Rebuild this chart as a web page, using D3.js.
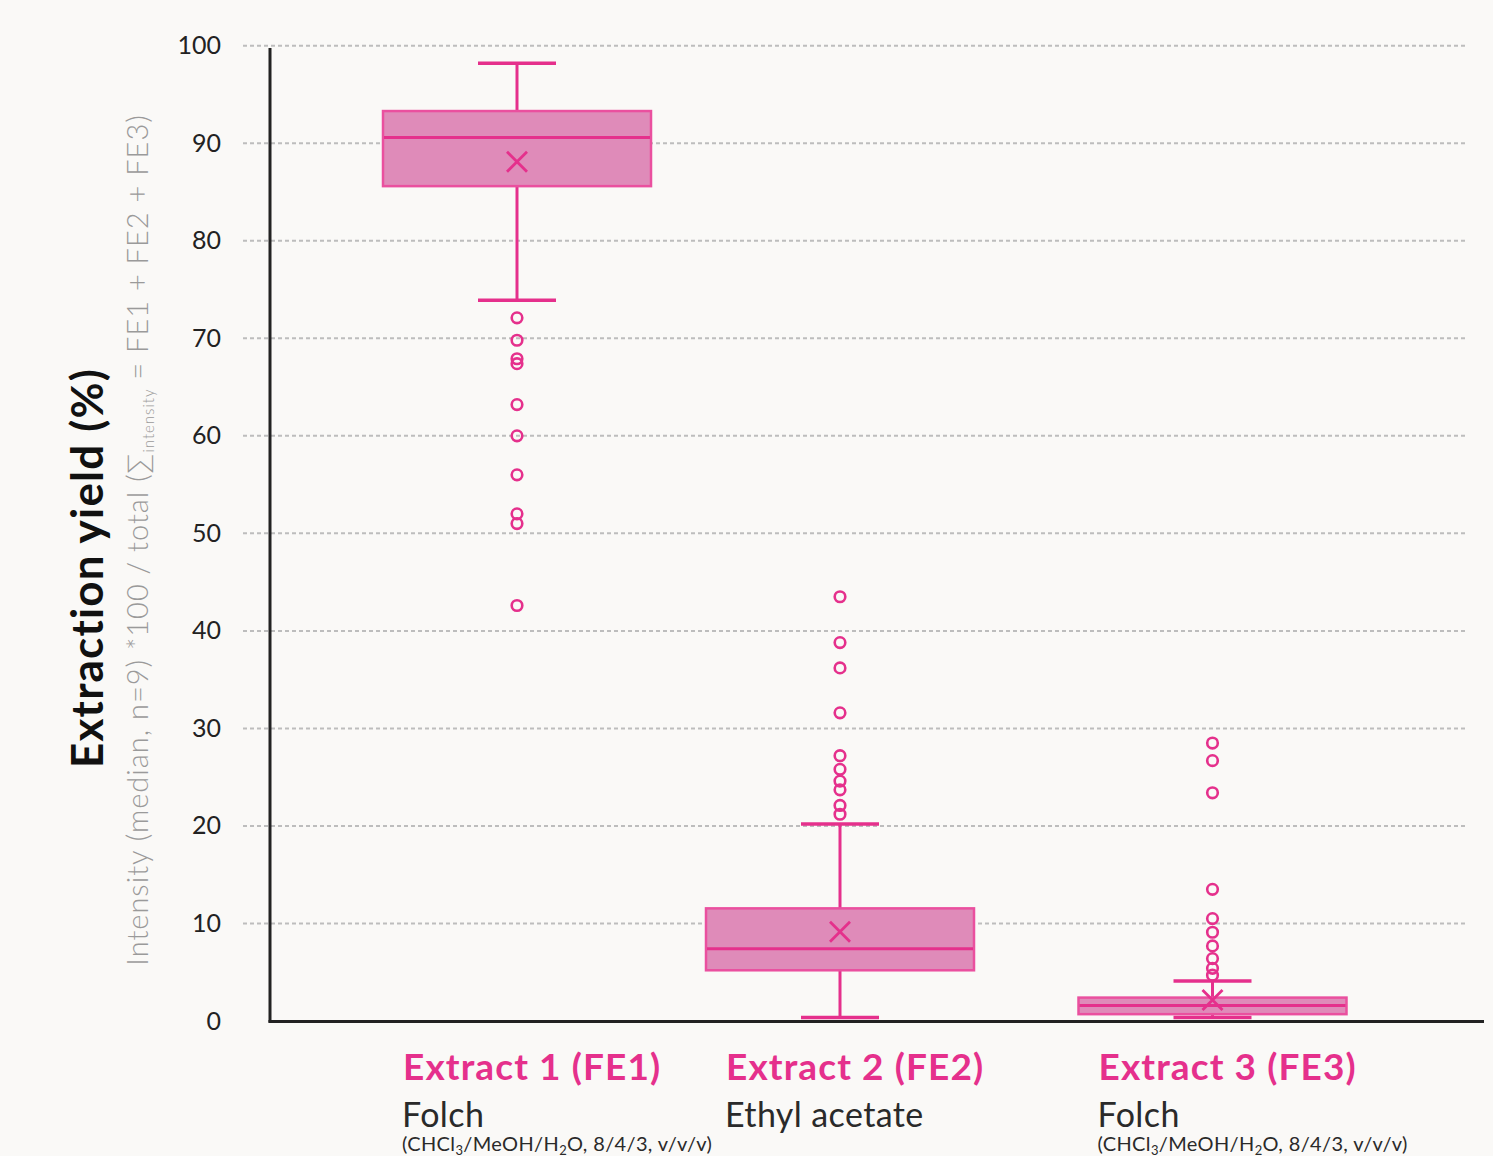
<!DOCTYPE html>
<html>
<head>
<meta charset="utf-8">
<script src="https://cdn.jsdelivr.net/npm/d3@7"></script>
<style>
  html, body { margin: 0; padding: 0; background: #FAF9F7; }
  svg { display: block; }
</style>
</head>
<body>
<svg id="chart" width="1493" height="1156"></svg>
<script>
// ---- data ----
const categories = ["Extract 1 (FE1)", "Extract 2 (FE2)", "Extract 3 (FE3)"];
const methods = ["Folch", "Ethyl acetate", "Folch"];
const hasSolventNote = [true, false, true];
const whiskerLow = [73.9, 0.35, 0.35];
const q1 = [85.6, 5.2, 0.7];
const median = [90.6, 7.4, 1.6];
const q3 = [93.3, 11.55, 2.4];
const whiskerHigh = [98.2, 20.2, 4.1];
const mean = [88.1, 9.15, 2.15];
const outliersFE1 = [72.1, 69.8, 67.9, 67.4, 63.2, 60.0, 56.0, 52.0, 51.0, 42.6];
const outliersFE2 = [43.5, 38.8, 36.2, 31.6, 27.2, 25.8, 24.6, 23.7, 22.1, 21.2];
const outliersFE3 = [28.5, 26.7, 23.4, 13.5, 10.5, 9.1, 7.7, 6.4, 5.4, 4.7];
const outliers = [outliersFE1, outliersFE2, outliersFE3];
const yTicks = [0, 10, 20, 30, 40, 50, 60, 70, 80, 90, 100];

// ---- styles ----
const PINK = "#E5308C";
const BOX_FILL = "#DF8BB9";
const BOX_STROKE = "#EA509F";
const FONT = "Lato, 'Noto Sans', sans-serif";

const svg = d3.select("#chart");
svg.append("rect").attr("width", 1493).attr("height", 1156).attr("fill", "#FAF9F7");

const axisX = 270, axisRight = 1484;
const y = d3.scaleLinear().domain([0, 100]).range([1021, 45.7]);
const x = d3.scaleLinear().domain([0, 1, 2]).range([517, 840, 1212.5]);
const boxW = 268, capW = 78;

// gridlines
svg.append("g").selectAll("line").data(yTicks.filter(t => t > 0)).join("line")
  .attr("x1", 243).attr("x2", 1466)
  .attr("y1", d => y(d)).attr("y2", d => y(d))
  .attr("stroke", "#BDBDBD").attr("stroke-width", 2).attr("stroke-dasharray", "4,3");

// y tick labels via axis
const yAxis = svg.append("g").attr("transform", `translate(${axisX},0)`)
  .call(d3.axisLeft(y).tickValues(yTicks).tickSize(0).tickPadding(49));
yAxis.select(".domain").remove();
yAxis.selectAll("text").attr("font-family", FONT).attr("font-size", 25)
  .attr("fill", "#222").attr("font-weight", 400);

// boxes
const g = svg.append("g");
categories.forEach((c, i) => {
  const cx = x(i);
  g.append("line").attr("x1", cx).attr("x2", cx).attr("y1", y(whiskerHigh[i])).attr("y2", y(q3[i]))
    .attr("stroke", PINK).attr("stroke-width", 3);
  g.append("line").attr("x1", cx).attr("x2", cx).attr("y1", y(q1[i])).attr("y2", y(whiskerLow[i]))
    .attr("stroke", PINK).attr("stroke-width", 3);
  [whiskerHigh[i], whiskerLow[i]].forEach(v => {
    g.append("line").attr("x1", cx - capW / 2).attr("x2", cx + capW / 2)
      .attr("y1", y(v)).attr("y2", y(v)).attr("stroke", PINK).attr("stroke-width", 3.5);
  });
  g.append("rect").attr("x", cx - boxW / 2).attr("width", boxW)
    .attr("y", y(q3[i])).attr("height", y(q1[i]) - y(q3[i]))
    .attr("fill", BOX_FILL).attr("stroke", BOX_STROKE).attr("stroke-width", 2.5);
  g.append("line").attr("x1", cx - boxW / 2 + 1).attr("x2", cx + boxW / 2 - 1)
    .attr("y1", y(median[i])).attr("y2", y(median[i]))
    .attr("stroke", PINK).attr("stroke-width", 3);
  const my = y(mean[i]), s = 10;
  g.append("path").attr("d", `M${cx - s},${my - s}L${cx + s},${my + s}M${cx - s},${my + s}L${cx + s},${my - s}`)
    .attr("stroke", PINK).attr("stroke-width", 2.8).attr("fill", "none");
  g.append("g").selectAll("circle").data(outliers[i]).join("circle")
    .attr("cx", cx).attr("cy", d => y(d)).attr("r", 5.3)
    .attr("fill", "none").attr("stroke", PINK).attr("stroke-width", 2.6);
});

// axes lines
svg.append("line").attr("x1", axisX).attr("x2", axisX).attr("y1", 48).attr("y2", 1022.5)
  .attr("stroke", "#222").attr("stroke-width", 3);
svg.append("line").attr("x1", axisX - 1.5).attr("x2", axisRight).attr("y1", 1021.5).attr("y2", 1021.5)
  .attr("stroke", "#222").attr("stroke-width", 3);

// category labels
categories.forEach((c, i) => {
  const lx = x(i) - 114;
  svg.append("text").attr("x", lx).attr("y", 1080)
    .attr("font-family", FONT).attr("font-weight", 700).attr("font-size", 37)
    .attr("letter-spacing", 1.1).attr("fill", PINK).text(c);
  svg.append("text").attr("x", lx - 1).attr("y", 1127)
    .attr("font-family", FONT).attr("font-weight", 400).attr("font-size", 34)
    .attr("letter-spacing", 0.4).attr("fill", "#2A2A2A").text(methods[i]);
  if (hasSolventNote[i]) {
    const t = svg.append("text").attr("x", lx - 1).attr("y", 1151)
      .attr("font-family", FONT).attr("font-size", 20).attr("letter-spacing", 0.35).attr("fill", "#2A2A2A");
    t.append("tspan").text("(CHCl");
    t.append("tspan").attr("font-size", 13).attr("dy", 4).text("3");
    t.append("tspan").attr("dy", -4).text("/MeOH/H");
    t.append("tspan").attr("font-size", 13).attr("dy", 4).text("2");
    t.append("tspan").attr("dy", -4).text("O, 8/4/3, v/v/v)");
  }
});

// y axis titles
svg.append("text").attr("transform", "translate(103,568) rotate(-90)")
  .attr("text-anchor", "middle").attr("font-family", FONT).attr("font-weight", 700)
  .attr("font-size", 44).attr("letter-spacing", 1.2).attr("fill", "#111").text("Extraction yield (%)");

const sub = svg.append("text").attr("transform", "translate(148,540) rotate(-90)")
  .attr("text-anchor", "middle").attr("font-family", FONT).attr("font-weight", 300)
  .attr("font-size", 29).attr("letter-spacing", 1.0).attr("fill", "#9A9A9A");
sub.append("tspan").text("Intensity (median, n=9) *100 / total (∑");
sub.append("tspan").attr("font-size", 15).attr("dy", 6).text("intensity");
sub.append("tspan").attr("dy", -6).text(" = FE1 + FE2 + FE3)");
</script>
</body>
</html>
